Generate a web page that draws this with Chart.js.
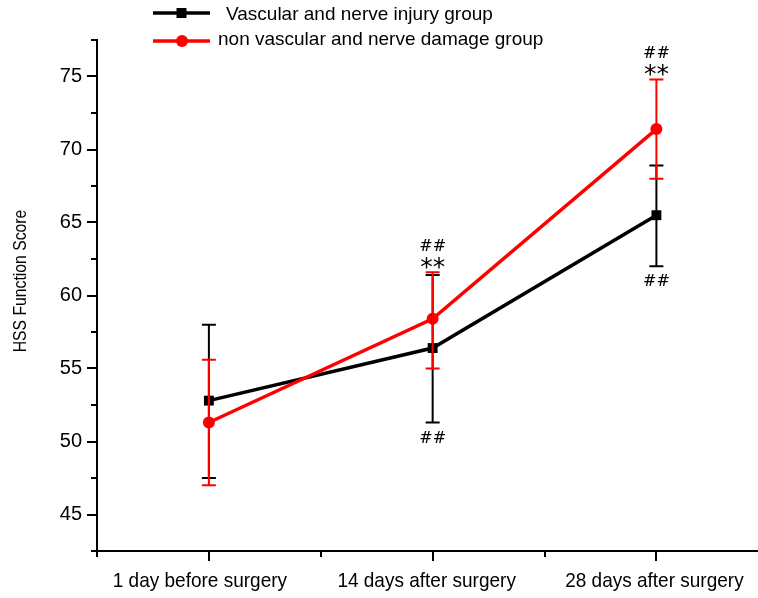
<!DOCTYPE html>
<html>
<head>
<meta charset="utf-8">
<script src="https://cdn.jsdelivr.net/npm/chart.js@4/dist/chart.umd.min.js"></script>
<style>
  html, body { margin: 0; padding: 0; background: #fff; overflow: hidden; }
  #wrap { width: 758px; height: 598px; overflow: hidden; position: relative; }
  canvas { display: block; }
</style>
</head>
<body>
<div id="wrap"><canvas id="chart" width="782" height="598"></canvas></div>
<script>
// Time points
const categories = ['1 day before surgery', '14 days after surgery', '28 days after surgery'];

// Vascular and nerve injury group: mean and error range
const injuryMean = [52.8, 56.4, 65.5];
const injuryLow  = [47.5, 51.3, 62.0];
const injuryHigh = [58.0, 61.4, 68.9];

// Non vascular and nerve damage group: mean and error range
const otherMean = [51.3, 58.4, 71.4];
const otherLow  = [47.0, 55.0, 68.0];
const otherHigh = [55.6, 61.6, 74.8];

// Axis ticks
const yTicks = [45, 50, 55, 60, 65, 70, 75];
const yMinorTicks = [42.5, 47.5, 52.5, 57.5, 62.5, 67.5, 72.5, 77.5];
const xMinorTicks = [-0.5, 0.5, 1.5, 2.5];

// Significance marks per time point
const marksAbove = [[], ['##', '**'], ['##', '**']];
const marksBelow = ['', '##', '##'];

const seriesNames = ['Vascular and nerve injury group', 'non vascular and nerve damage group'];
const BLACK = '#000000';
const RED = '#ff0000';
const FONT = "'Liberation Sans', Arial, Helvetica, sans-serif";
const categoryNudge = [-9, -6, -2]; // small horizontal shifts of the category captions

function toPoints(values) {
  return values.map((v, i) => ({ x: i, y: v }));
}

// Draw text so that its visible glyphs are centred on (x, y)
function drawCentered(ctx, text, x, y) {
  ctx.textAlign = 'center';
  ctx.textBaseline = 'alphabetic';
  const m = ctx.measureText(text);
  const asc = m.actualBoundingBoxAscent, desc = m.actualBoundingBoxDescent;
  ctx.fillText(text, x, y + (asc - desc) / 2);
}

// Horizontally condensed, centred text
function drawNarrow(ctx, text, x, y, baseline, squeeze) {
  ctx.save();
  ctx.translate(x, y);
  ctx.scale(squeeze, 1);
  ctx.textAlign = 'center';
  ctx.textBaseline = baseline;
  ctx.fillText(text, 0, 0);
  ctx.restore();
}

const extrasPlugin = {
  id: 'extras',
  afterDatasetsDraw(chart) {
    const { ctx, scales: { x, y } } = chart;
    ctx.save();
    // error bars: injury group first, then the other group on top
    const groups = [
      { low: injuryLow, high: injuryHigh, color: BLACK },
      { low: otherLow, high: otherHigh, color: RED }
    ];
    groups.forEach(g => {
      ctx.strokeStyle = g.color;
      ctx.lineWidth = 2;
      g.low.forEach((lo, i) => {
        const px = x.getPixelForValue(i);
        const yLo = y.getPixelForValue(lo);
        const yHi = y.getPixelForValue(g.high[i]);
        ctx.beginPath();
        ctx.moveTo(px, yLo); ctx.lineTo(px, yHi);
        ctx.moveTo(px - 7, yLo); ctx.lineTo(px + 7, yLo);
        ctx.moveTo(px - 7, yHi); ctx.lineTo(px + 7, yHi);
        ctx.stroke();
      });
    });
    ctx.restore();
  },
  afterDraw(chart) {
    const { ctx, scales: { x, y } } = chart;
    ctx.save();
    ctx.strokeStyle = BLACK;
    ctx.lineWidth = 2;
    // minor tick marks
    const left = x.left, bottom = y.bottom;
    ctx.beginPath();
    yMinorTicks.forEach(v => {
      const py = Math.round(y.getPixelForValue(v));
      ctx.moveTo(left - 6, py); ctx.lineTo(left, py);
    });
    xMinorTicks.forEach(v => {
      const px = Math.round(x.getPixelForValue(v));
      ctx.moveTo(px, bottom); ctx.lineTo(px, bottom + 6);
    });
    ctx.stroke();

    // category captions under the x axis
    ctx.fillStyle = BLACK;
    ctx.font = '21px ' + FONT;
    categories.forEach((c, i) => {
      drawNarrow(ctx, c, x.getPixelForValue(i) + categoryNudge[i], bottom + 36, 'alphabetic', 0.905);
    });

    // y axis title
    ctx.font = '18px ' + FONT;
    ctx.save();
    ctx.translate(21, 281);
    ctx.rotate(-Math.PI / 2);
    drawNarrow(ctx, 'HSS Function Score', 0, 0, 'middle', 0.875);
    ctx.restore();

    // significance marks
    ctx.fillStyle = BLACK;
    categories.forEach((c, i) => {
      const px = x.getPixelForValue(i);
      const above = marksAbove[i];
      if (above.length) {
        const top = y.getPixelForValue(otherHigh[i]);
        ctx.font = "25px 'DejaVu Sans', sans-serif";
        drawCentered(ctx, above[1], px, top - 9);
        ctx.font = "16px 'DejaVu Serif', serif";
        drawCentered(ctx, above[0], px, top - 27);
      }
      if (marksBelow[i]) {
        const low = y.getPixelForValue(injuryLow[i]);
        ctx.font = "16px 'DejaVu Serif', serif";
        drawCentered(ctx, marksBelow[i], px, low + 14);
      }
    });

    // legend
    const rows = [
      { name: seriesNames[0], color: BLACK, lineY: 13, textY: 15, textX: 226, style: 'rect' },
      { name: seriesNames[1], color: RED, lineY: 41, textY: 40, textX: 218, style: 'circle' }
    ];
    rows.forEach(r => {
      ctx.strokeStyle = r.color;
      ctx.fillStyle = r.color;
      ctx.lineWidth = 3.5;
      ctx.beginPath();
      ctx.moveTo(153, r.lineY); ctx.lineTo(210, r.lineY);
      ctx.stroke();
      ctx.beginPath();
      if (r.style === 'rect') {
        ctx.rect(176.5, r.lineY - 5, 10, 10);
      } else {
        ctx.arc(182, r.lineY, 6, 0, Math.PI * 2);
      }
      ctx.fill();
      ctx.fillStyle = BLACK;
      ctx.font = '19px ' + FONT;
      ctx.textAlign = 'left';
      ctx.textBaseline = 'middle';
      ctx.fillText(r.name, r.textX, r.textY);
    });
    ctx.restore();
  }
};

new Chart(document.getElementById('chart'), {
  type: 'line',
  data: {
    datasets: [
      {
        label: seriesNames[1],
        data: toPoints(otherMean),
        borderColor: RED,
        backgroundColor: RED,
        borderWidth: 3.5,
        pointStyle: 'circle',
        pointRadius: 6,
        pointBorderWidth: 0,
        order: 0
      },
      {
        label: seriesNames[0],
        data: toPoints(injuryMean),
        borderColor: BLACK,
        backgroundColor: BLACK,
        borderWidth: 3.5,
        pointStyle: 'rect',
        pointRadius: 7,
        pointBorderWidth: 0,
        order: 1
      }
    ]
  },
  options: {
    responsive: false,
    animation: false,
    devicePixelRatio: 1,
    clip: false,
    layout: { padding: { top: 40, left: 0, right: 0, bottom: 0 } },
    plugins: {
      legend: { display: false },
      tooltip: { enabled: false }
    },
    scales: {
      x: {
        type: 'linear',
        min: -0.5,
        max: 2.53,
        afterBuildTicks: s => { s.ticks = categories.map((c, i) => ({ value: i })); },
        afterFit: s => { s.height = 47; },
        ticks: { display: false },
        grid: { display: true, drawOnChartArea: false, drawTicks: true, tickLength: 10, color: BLACK, lineWidth: 2 },
        border: { display: true, color: BLACK, width: 2 }
      },
      y: {
        min: 42.5,
        max: 77.5,
        afterBuildTicks: s => { s.ticks = yTicks.map(v => ({ value: v })); },
        afterFit: s => { s.width = 97; },
        ticks: {
          color: BLACK,
          font: { size: 20, family: FONT },
          padding: 5
        },
        grid: { display: true, drawOnChartArea: false, drawTicks: true, tickLength: 10, color: BLACK, lineWidth: 2 },
        border: { display: true, color: BLACK, width: 2 }
      }
    }
  },
  plugins: [extrasPlugin]
});
</script>
</body>
</html>
